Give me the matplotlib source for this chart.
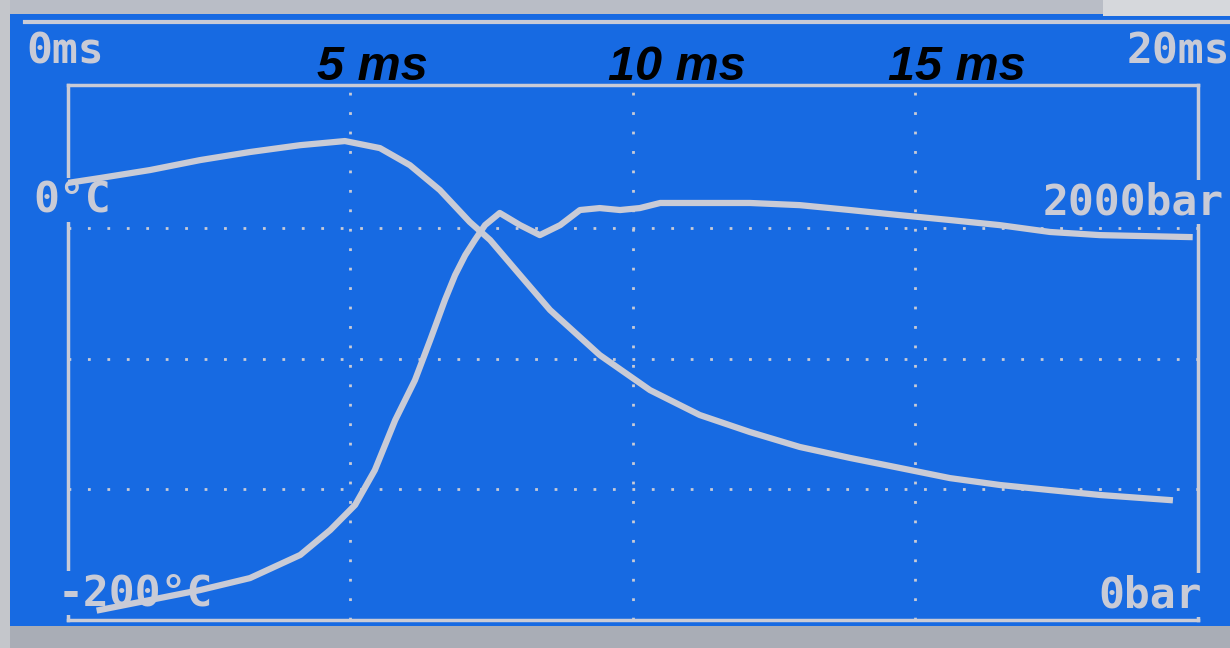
import numpy as np
import matplotlib.pyplot as plt
from matplotlib.patches import Rectangle
from matplotlib.transforms import blended_transform_factory

# time in ms
t_temp = [0.0, 0.57, 1.46, 2.35, 3.23, 4.12, 4.91, 5.53, 6.06, 6.59, 7.12, 7.48,
          8.01, 8.54, 9.42, 10.31, 11.19, 12.08, 12.96, 13.85, 14.73, 15.62,
          16.50, 17.39, 18.27, 19.51]
temp_c = [23, 25.5, 29.6, 34.7, 38.8, 42.3, 44.4, 40.8, 32.1, 19.4, 3.1, -6.1,
          -24.0, -41.8, -64.8, -82.7, -95.4, -104.1, -111.7, -117.3, -122.4,
          -127.6, -131.1, -133.7, -136.2, -138.8]

t_pres = [0.57, 1.46, 2.35, 3.23, 4.12, 4.65, 5.09, 5.44, 5.80, 6.15, 6.42, 6.68,
          6.86, 7.04, 7.21, 7.39, 7.65, 8.01, 8.36, 8.72, 9.07, 9.42, 9.78, 10.13,
          10.49, 11.19, 12.08, 12.96, 13.85, 14.73, 15.62, 16.50, 17.39, 18.27, 19.86]
pres_bar = [51, 102, 153, 214, 332, 459, 587, 765, 1020, 1224, 1429, 1633,
            1760, 1862, 1939, 2015, 2077, 2015, 1964, 2015, 2092, 2102, 2092, 2102,
            2128, 2128, 2128, 2117, 2092, 2066, 2041, 2015, 1980, 1964, 1954]

time_ticks = [5, 10, 15]
time_labels = ['5 ms', '10 ms', '15 ms']
label_pos = [5.4, 10.78, 15.75]
pres_grid = [666.7, 1333.3, 2000]

blue = '#176ae2'
trace = '#c9cbd6'

fig = plt.figure(figsize=(12.3, 6.48), dpi=100, facecolor=blue)
ax = fig.add_axes([67.5 / 1230, 1 - 620 / 648, 1130 / 1230, 535 / 648])
ax.set_facecolor(blue)
ax.set_xlim(0, 20)
ax.set_ylim(0, 2730)
ax2 = ax.twinx()
ax2.set_ylim(-200, 73)

for s in ax.spines.values():
    s.set_color(trace)
    s.set_linewidth(2.5)
for s in ax2.spines.values():
    s.set_visible(False)
ax.set_xticks([])
ax.set_yticks([])
ax2.set_yticks([])

for xv in time_ticks:
    ax.axvline(xv, color=trace, lw=2.0, ls=(0, (1, 6)), zorder=1)
for yv in pres_grid:
    ax.axhline(yv, color=trace, lw=2.0, ls=(0, (1, 6)), zorder=1)

ax.plot(t_pres, pres_bar, color=trace, lw=4.5, zorder=3)
ax2.plot(t_temp, temp_c, color=trace, lw=4.5, zorder=3)

# screen labels (above the frame, below the traces)
lab = dict(color=trace, fontsize=31, fontweight='bold', family='DejaVu Sans Mono',
           transform=fig.transFigure, clip_on=False, zorder=2.6,
           bbox=dict(facecolor=blue, edgecolor='none', pad=1))
ax.text(26 / 1230, 1 - 52 / 648, '0ms', ha='left', va='center', **lab)
ax.text(1230 / 1230, 1 - 52 / 648, '20ms', ha='right', va='center', **lab)
ax.text(33 / 1230, 1 - 200 / 648, '0°C', ha='left', va='center', **lab)
ax.text(58 / 1230, 1 - 593 / 648, '-200°C', ha='left', va='center', **lab)
ax.text(1224 / 1230, 1 - 202 / 648, '2000bar', ha='right', va='center', **lab)
ax.text(1202 / 1230, 1 - 595 / 648, '0bar', ha='right', va='center', **lab)

trans = blended_transform_factory(ax.transData, fig.transFigure)
for xv, s in zip(label_pos, time_labels):
    ax.text(xv, 1 - 68 / 648, s, transform=trans, ha='center', va='center',
            fontsize=35, fontweight='bold', fontstyle='italic',
            family='Liberation Sans', color='black', zorder=5, clip_on=False)

# bezel and top rule
fig.add_artist(Rectangle((0, 1 - 14 / 648), 1, 14 / 648, transform=fig.transFigure,
                         facecolor='#b9bdc6', edgecolor='none'))
fig.add_artist(Rectangle((1103 / 1230, 1 - 16 / 648), 127 / 1230, 16 / 648,
                         transform=fig.transFigure, facecolor='#d6d8dc', edgecolor='none'))
fig.add_artist(Rectangle((0, 0), 1, 22 / 648, transform=fig.transFigure,
                         facecolor='#a9adb6', edgecolor='none'))
fig.add_artist(Rectangle((0, 0), 10 / 1230, 1, transform=fig.transFigure,
                         facecolor='#c4c6cb', edgecolor='none'))
fig.add_artist(plt.Line2D([25 / 1230, 1], [1 - 22 / 648] * 2, transform=fig.transFigure,
                          color=trace, lw=3))

fig.savefig('out.png', dpi=100, facecolor=blue)
